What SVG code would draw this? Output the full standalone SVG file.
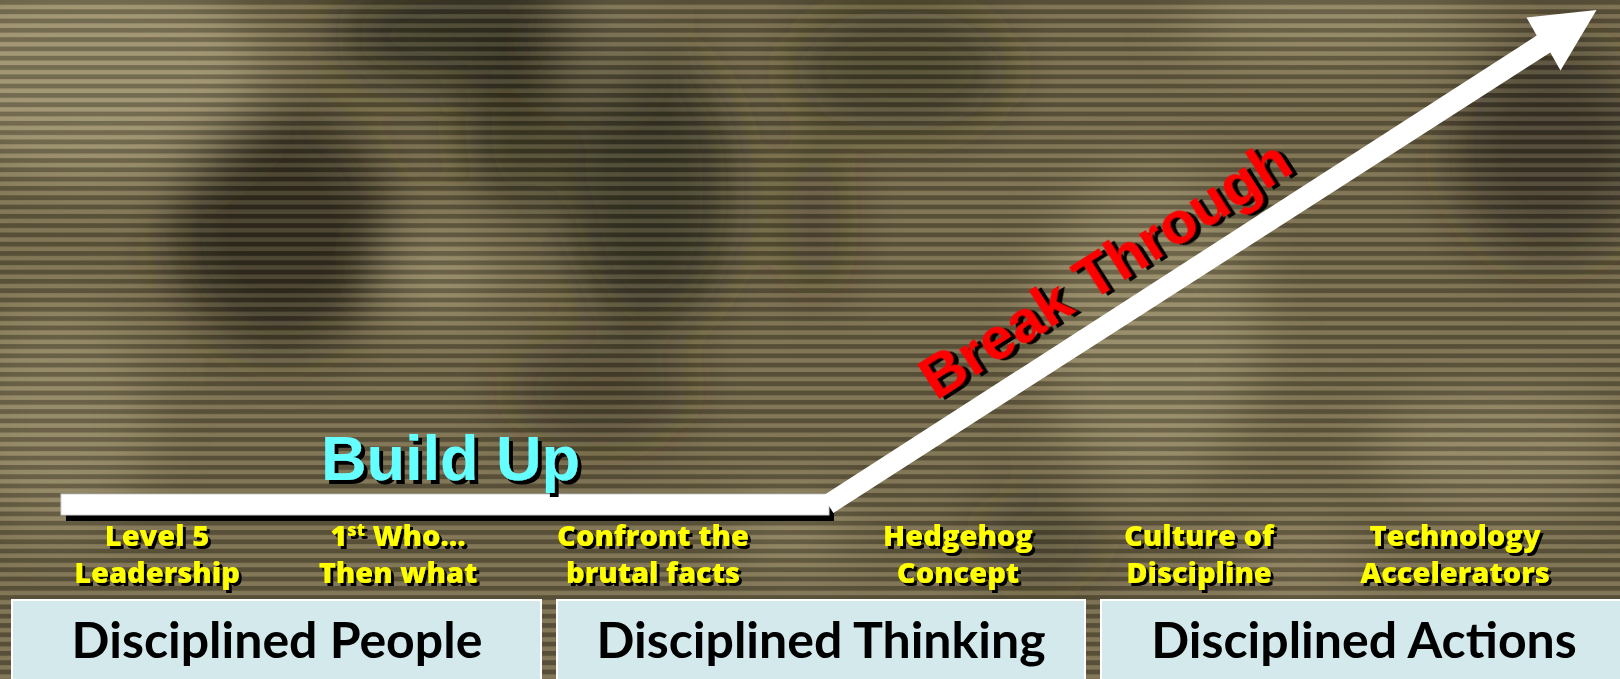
<svg xmlns="http://www.w3.org/2000/svg" width="1620" height="679" viewBox="0 0 1620 679">
  <style>
    .lbl { font-family: "Open Sans", "Liberation Sans", sans-serif; font-weight: 800; font-size: 29px; text-anchor: middle; fill: #ffff00; filter: url(#sh3); }
    .box { fill: #d3e9ec; stroke: #ffffff; stroke-width: 2; }
    .box-txt { font-family: "Lato", "Open Sans", sans-serif; font-weight: 700; font-size: 50px; fill: #000000; text-anchor: middle; }
    .title { font-family: "Liberation Sans", Arial, sans-serif; font-weight: 700; filter: url(#sh4); }
    .dark { fill: #2a2618; }
    .light { fill: #a39773; }
  </style>
  <defs>
    <filter id="blur" x="-20%" y="-20%" width="140%" height="140%">
      <feGaussianBlur stdDeviation="28"/>
    </filter>
    <filter id="sh3" x="-5%" y="-20%" width="115%" height="150%">
      <feDropShadow dx="3" dy="3" stdDeviation="0" flood-color="#000000" flood-opacity="1"/>
    </filter>
    <filter id="sh4" x="-5%" y="-20%" width="115%" height="150%">
      <feDropShadow dx="4" dy="4" stdDeviation="0" flood-color="#000000" flood-opacity="1"/>
    </filter>
    <pattern id="stripes" x="0" y="0" width="20" height="9.3" patternUnits="userSpaceOnUse">
      <rect x="0" y="0" width="20" height="4.8" fill="#000000" fill-opacity="0.24"/>
      <rect x="0" y="4.8" width="20" height="4.5" fill="#fff6d0" fill-opacity="0.10"/>
    </pattern>
  </defs>

  <g id="background">
    <rect x="0" y="0" width="1620" height="679" fill="#74694a"/>
    <g filter="url(#blur)">
      <ellipse class="light" cx="90" cy="70" rx="170" ry="110" opacity="0.8"/>
      <ellipse class="light" cx="60" cy="420" rx="90" ry="120" opacity="0.5"/>
      <ellipse class="dark" cx="280" cy="230" rx="110" ry="120" opacity="0.8"/>
      <ellipse class="dark" cx="480" cy="35" rx="150" ry="55" opacity="0.75"/>
      <ellipse class="dark" cx="515" cy="130" rx="50" ry="90" opacity="0.6"/>
      <ellipse class="dark" cx="650" cy="190" rx="85" ry="140" opacity="0.7"/>
      <ellipse class="light" cx="440" cy="275" rx="55" ry="40" opacity="0.7"/>
      <ellipse class="light" cx="600" cy="30" rx="40" ry="60" opacity="0.4"/>
      <ellipse class="dark" cx="600" cy="390" rx="90" ry="55" opacity="0.45"/>
      <ellipse class="dark" cx="900" cy="70" rx="110" ry="60" opacity="0.55"/>
      <ellipse class="dark" cx="815" cy="220" rx="25" ry="80" opacity="0.5"/>
      <ellipse class="light" cx="1150" cy="330" rx="110" ry="160" opacity="0.6"/>
      <ellipse class="light" cx="1330" cy="20" rx="150" ry="40" opacity="0.6"/>
      <ellipse class="dark" cx="1550" cy="150" rx="100" ry="110" opacity="0.65"/>
      <ellipse class="light" cx="1500" cy="450" rx="130" ry="60" opacity="0.55"/>
      <ellipse class="light" cx="790" cy="530" rx="60" ry="40" opacity="0.5"/>
      <ellipse class="dark" cx="1040" cy="540" rx="60" ry="50" opacity="0.35"/>
      <ellipse class="light" cx="1300" cy="560" rx="70" ry="40" opacity="0.45"/>
    </g>
    <rect x="0" y="0" width="1620" height="679" fill="url(#stripes)"/>
  </g>

  <g id="connectors">
    <g id="build-up-bar">
      <rect x="66" y="500" width="768" height="21" fill="#000000"/>
      <rect x="61" y="494" width="768" height="21" fill="#ffffff" stroke="#d0d0d0" stroke-width="1"/>
    </g>
    <g id="break-through-arrow">
      <polygon fill="#ffffff" points="822.6,496.1 1536.7,35.6 1526.5,17.5 1596.5,9.9 1560.5,70.5 1550.3,52.4 833.4,512.9"/>
    </g>
  </g>

  <g id="node-build-up">
    <text class="title" x="321" y="480" font-size="63" fill="#66ffff">Build Up</text>
  </g>

  <g id="node-break-through">
    <text class="title" font-size="60" fill="#ff0000" transform="translate(936,401) rotate(-32.6)">Break Through</text>
  </g>

  <g id="node-level5">
    <text class="lbl" x="157" y="546">Level 5</text>
    <text class="lbl" x="157" y="583">Leadership</text>
  </g>

  <g id="node-first-who">
    <text class="lbl" x="398" y="546">1<tspan font-size="18" dy="-10">st</tspan><tspan dy="10"> Who…</tspan></text>
    <text class="lbl" x="398" y="583">Then what</text>
  </g>

  <g id="node-confront">
    <text class="lbl" x="653" y="546">Confront the</text>
    <text class="lbl" x="653" y="583">brutal facts</text>
  </g>

  <g id="node-hedgehog">
    <text class="lbl" x="958" y="546">Hedgehog</text>
    <text class="lbl" x="958" y="583">Concept</text>
  </g>

  <g id="node-culture">
    <text class="lbl" x="1199" y="546">Culture of</text>
    <text class="lbl" x="1199" y="583">Discipline</text>
  </g>

  <g id="node-technology">
    <text class="lbl" x="1455" y="546">Technology</text>
    <text class="lbl" x="1455" y="583">Accelerators</text>
  </g>

  <g id="node-disciplined-people">
    <rect class="box" x="12" y="600" width="529" height="90"/>
    <text class="box-txt" x="277" y="658">Disciplined People</text>
  </g>

  <g id="node-disciplined-thinking">
    <rect class="box" x="557" y="600" width="528" height="90"/>
    <text class="box-txt" x="821" y="658">Disciplined Thinking</text>
  </g>

  <g id="node-disciplined-actions">
    <rect class="box" x="1101" y="600" width="530" height="90"/>
    <text class="box-txt" x="1364" y="658">Disciplined Actions</text>
  </g>
</svg>
